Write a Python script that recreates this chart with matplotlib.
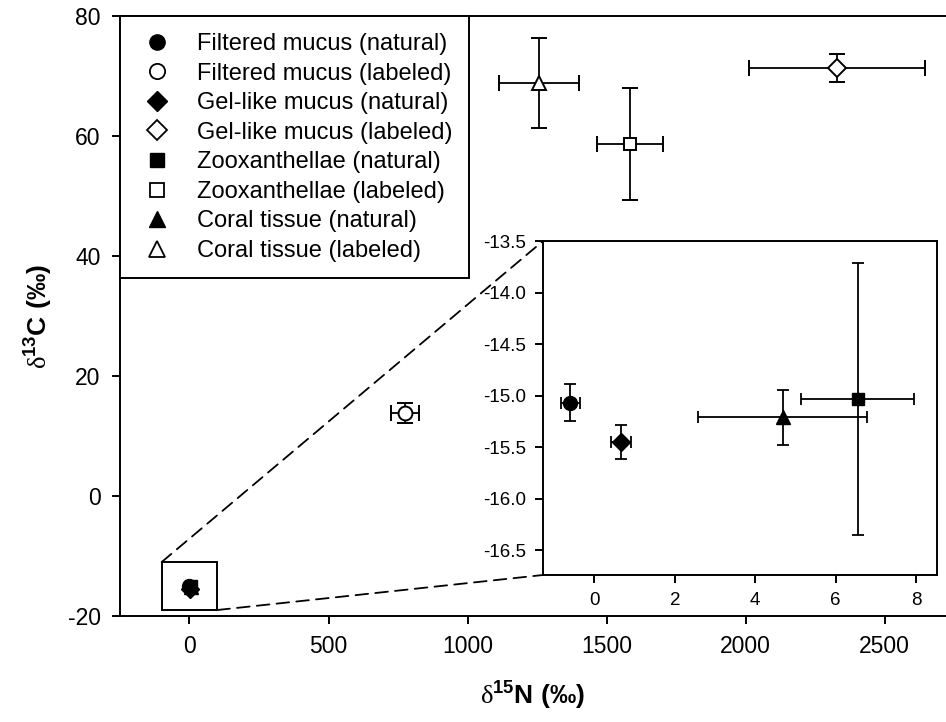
import matplotlib
matplotlib.use("Agg")
import matplotlib.pyplot as plt
from matplotlib.patches import Rectangle, ConnectionPatch
from matplotlib.lines import Line2D

plt.rcParams['font.family'] = ['Liberation Sans', 'DejaVu Sans']
plt.rcParams['axes.unicode_minus'] = False
plt.rcParams['mathtext.fontset'] = 'custom'
plt.rcParams['mathtext.rm'] = 'Liberation Serif'
plt.rcParams['mathtext.bf'] = 'Liberation Sans:bold'

# labeled samples (main axes)
lab_names = ["Filtered mucus (labeled)", "Gel-like mucus (labeled)",
             "Zooxanthellae (labeled)", "Coral tissue (labeled)"]
lab_n = [775, 2329, 1583, 1256]
lab_n_err = [52, 317, 118, 144]
lab_c = [13.9, 71.4, 58.7, 68.9]
lab_c_err = [1.7, 2.4, 9.3, 7.5]

# natural samples (inset)
nat_names = ["Filtered mucus (natural)", "Gel-like mucus (natural)",
             "Zooxanthellae (natural)", "Coral tissue (natural)"]
nat_n = [-0.60, 0.66, 6.55, 4.68]
nat_n_err = [0.23, 0.24, 1.41, 2.11]
nat_c = [-15.07, -15.45, -15.03, -15.21]
nat_c_err = [0.18, 0.165, 1.32, 0.265]

markers = ["o", "D", "s", "^"]
msizes = [10, 9, 9, 10]

fig = plt.figure(figsize=(9.46, 7.22), dpi=100)
ax = fig.add_axes([0.1268, 0.1468, 0.8732, 0.8304])
ins = fig.add_axes([0.574, 0.2036, 0.4165, 0.4626])

for i in range(4):
    ax.errorbar(lab_n[i], lab_c[i], xerr=lab_n_err[i], yerr=lab_c_err[i],
                fmt=markers[i], ms=msizes[i], mfc="white", mec="black", mew=1.4,
                ecolor="black", elinewidth=1.3, capsize=6, capthick=1.3, zorder=3)
    ax.plot(nat_n[i], nat_c[i], markers[i], ms=msizes[i], color="black", zorder=3)
    ins.errorbar(nat_n[i], nat_c[i], xerr=nat_n_err[i], yerr=nat_c_err[i],
                 fmt=markers[i], ms=msizes[i], color="black",
                 ecolor="black", elinewidth=1.3, capsize=4, capthick=1.3, zorder=3)

ax.set_xlim(-250, 2720)
ax.set_ylim(-20, 80)
ax.set_xticks([0, 500, 1000, 1500, 2000, 2500])
ax.set_yticks([-20, 0, 20, 40, 60, 80])
ax.spines['right'].set_visible(False)
for s in ['left', 'bottom', 'top']:
    ax.spines[s].set_linewidth(1.4)
ax.tick_params(direction='out', length=6, width=1.4, labelsize=16.5, pad=8)
ax.set_xlabel('$\\mathrm{\\delta}^{\\mathbf{15}}$N (‰)', fontsize=19,
              fontweight='bold', labelpad=14)
ax.set_ylabel('$\\mathrm{\\delta}^{\\mathbf{13}}$C (‰)', fontsize=19,
              fontweight='bold', labelpad=10)

ins.set_xlim(-1.28, 8.52)
ins.set_ylim(-16.74, -13.5)
ins.set_xticks([0, 2, 4, 6, 8])
ins.set_yticks([-16.5, -16.0, -15.5, -15.0, -14.5, -14.0, -13.5])
ins.set_yticklabels(["-16.5", "-16.0", "-15.5", "-15.0", "-14.5", "-14.0", "-13.5"])
for s in ins.spines.values():
    s.set_linewidth(1.4)
ins.tick_params(direction='out', length=6, width=1.4, labelsize=13.5, pad=6)

# zoom box and connectors
ax.add_patch(Rectangle((-100, -19), 200, 8, fill=False, ec="black", lw=1.4, zorder=4))
for xy_a, xy_b in [((-100, -11), (0, 1)), ((100, -19), (0, 0))]:
    con = ConnectionPatch(xyA=xy_a, coordsA=ax.transData, xyB=xy_b, coordsB=ins.transAxes,
                          ls=(0, (7, 4)), lw=1.3, color="black")
    fig.add_artist(con)

# legend
handles, labels = [], []
for i in range(4):
    handles.append(Line2D([], [], ls="none", marker=markers[i], ms=msizes[i] + 1,
                          color="black"))
    labels.append(nat_names[i])
    handles.append(Line2D([], [], ls="none", marker=markers[i], ms=msizes[i] + 1,
                          mfc="white", mec="black", mew=1.3))
    labels.append(lab_names[i])
leg = ax.legend(handles, labels, loc="upper left", borderaxespad=0, fontsize=17,
                frameon=True, fancybox=False, edgecolor="black", framealpha=1,
                handlelength=1.7, handletextpad=0.85, labelspacing=0.32,
                borderpad=0.7)
leg.get_frame().set_linewidth(1.4)

fig.savefig("out.png", dpi=100)
